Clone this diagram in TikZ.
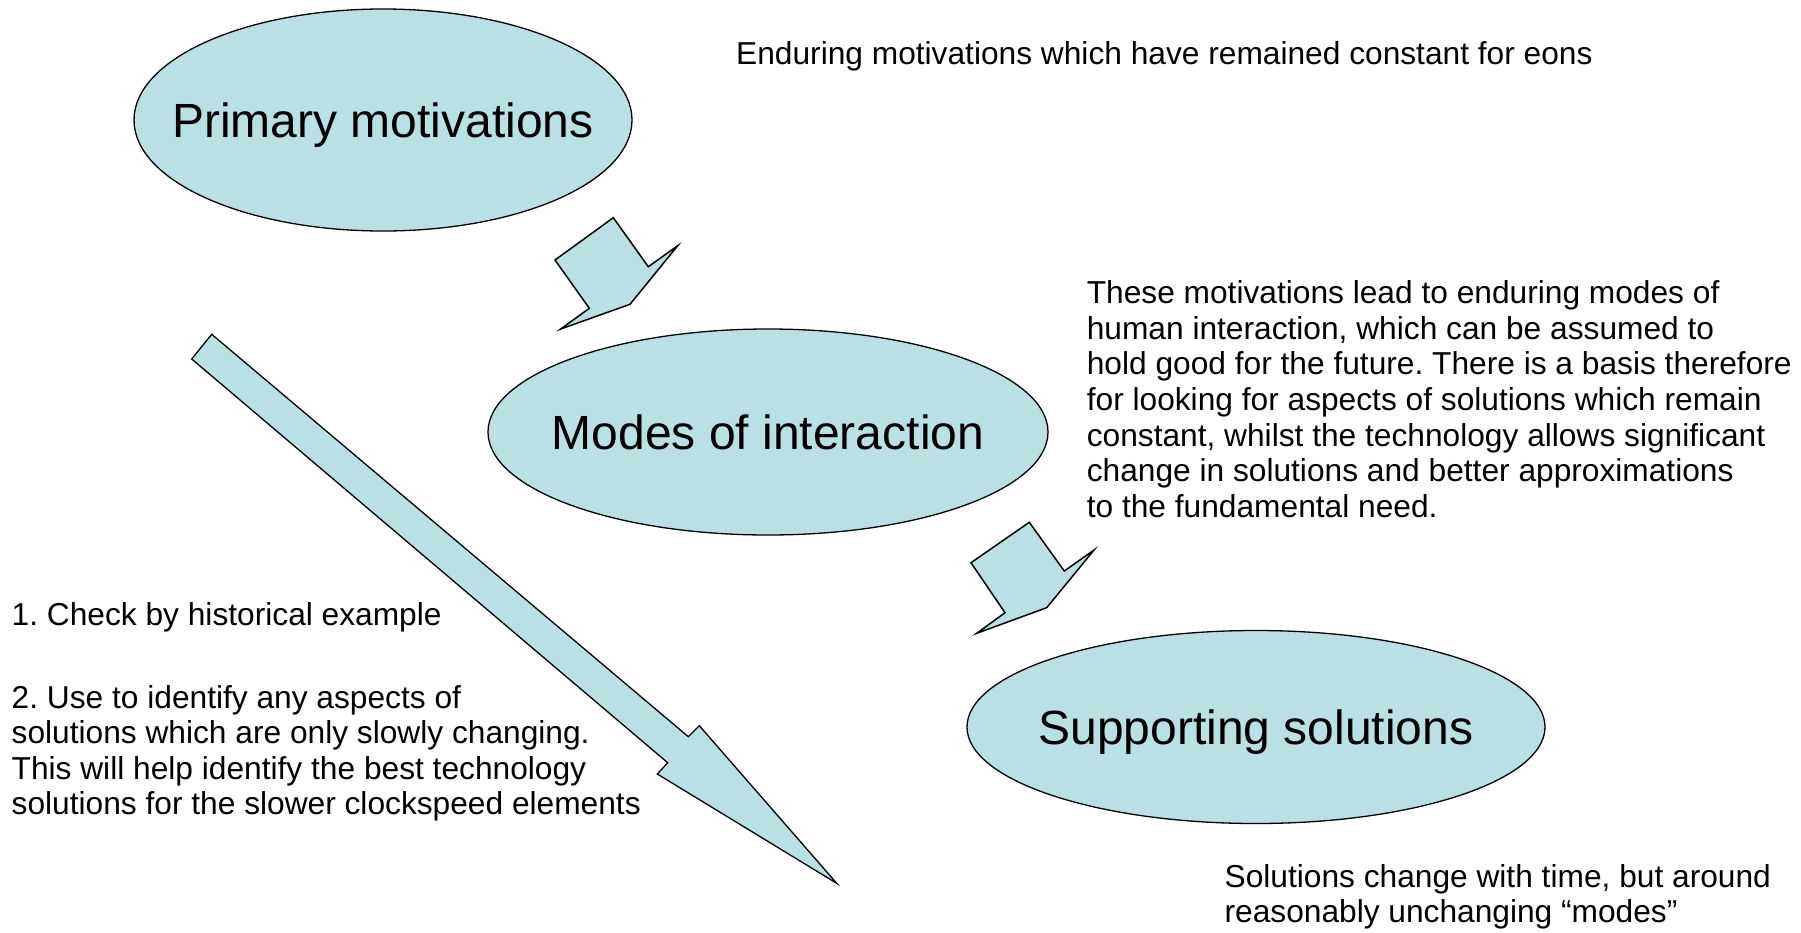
\documentclass[tikz,border=0pt]{standalone}
\usepackage{fontspec}
\setmainfont{Liberation Sans}
\usetikzlibrary{shapes.geometric}
\definecolor{fillblue}{HTML}{BAE0E3}
\frenchspacing
\begin{document}
\begin{tikzpicture}[x=1pt,y=-1pt,
  bubble/.style={ellipse, draw=black, line width=1.3pt, fill=fillblue, inner sep=0pt,
    label={[font=\fontsize{48}{55}\selectfont, inner sep=0pt, text depth=0pt]center:#1}},
  note/.style={anchor=north west, inner sep=0pt, align=left,
    font=\fontsize{31.7}{35.6}\selectfont},
  blockarrow/.style={draw=black, fill=fillblue, line width=1.5pt, line join=miter}]
\useasboundingbox (0,0) rectangle (1801,932);

% ellipses
\node[bubble=Primary motivations, minimum width=498pt, minimum height=222pt] (primary) at (383,120) {};
\node[bubble=Modes of interaction, minimum width=560pt, minimum height=206pt] (modes) at (768,432) {};
\node[bubble=Supporting solutions, minimum width=578pt, minimum height=193pt] (support) at (1256,727) {};

% small block arrows
\draw[blockarrow] (555,260) -- (613.3,217.7) -- (648.3,266.7) -- (677.7,245.7)
  -- (630,304.3) -- (560.7,329) -- (589.3,308.3) -- cycle;
\draw[blockarrow] (971,562.7) -- (1029.3,522.3) -- (1064.3,571) -- (1094,550)
  -- (1046.7,607.7) -- (976.7,633.3) -- (1005,612.7) -- cycle;

% long block arrow
\draw[blockarrow, line width=1.3pt] (191.7,359) -- (211.7,334.3) -- (688.3,736.7) -- (699.3,725.7)
  -- (836.7,883.3) -- (657.3,774) -- (667.7,762.7) -- cycle;

% texts
\node[note] (top) at (736,41.7) {Enduring motivations which have remained constant for eons};
\node[note] (para) at (1086.6,280.6) {These motivations lead to enduring modes of\\
human interaction, which can be assumed to\\
hold good for the future. There is a basis therefore\\
for looking for aspects of solutions which remain\\
constant, whilst the technology allows significant\\
change in solutions and better approximations\\
to the fundamental need.};
\node[note] (check) at (11.5,602.2) {1. Check by historical example};
\node[note] (use) at (11.5,684.9) {2. Use to identify any aspects of\\
solutions which are only slowly changing.\\
This will help identify the best technology\\
solutions for the slower clockspeed elements};
\node[note] (sol) at (1224.4,864.1) {Solutions change with time, but around\\
reasonably unchanging “modes”};
\end{tikzpicture}
\end{document}
